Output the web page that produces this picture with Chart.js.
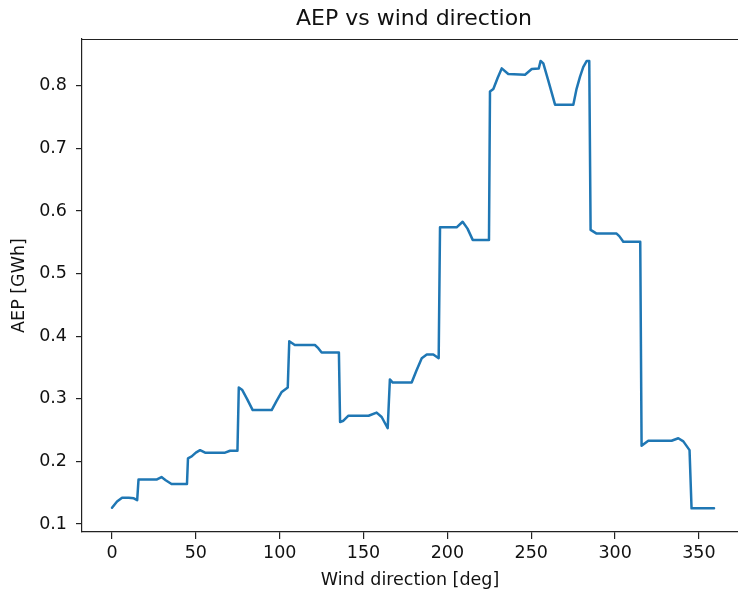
<!DOCTYPE html>
<html>
<head>
<meta charset="utf-8">
<script src="https://cdn.jsdelivr.net/npm/chart.js@4.4.1/dist/chart.umd.min.js"></script>
<style>
  html, body { margin: 0; padding: 0; background: #fff; }
  #wrap { width: 738px; height: 592px; }
</style>
</head>
<body>
<div id="wrap"><canvas id="aepChart" width="738" height="592"></canvas></div>
<script>
// Wind direction [deg] and AEP [GWh]
const directions = [
  0, 3, 6, 10, 13, 15, 15.8, 26.5, 29.5, 32, 35.5, 44.7, 45.3, 47.5, 50, 52.5,
  55.5, 67.4, 70.4, 74.8, 75.6, 77.7, 80.5, 83.9, 95.2, 98, 101.2, 104.8, 105.7, 109,
  121, 123, 125, 135.3, 136, 138, 141, 153, 157.8, 160.8, 164.4, 165.7, 167.4, 178.7,
  181.5, 184.7, 187.7, 191.6, 194.8, 195.6, 205.5, 209.1, 212, 215.1, 224.8, 225.4,
  227.4, 230, 232.4, 236.3, 246.3, 250.3, 254.5, 255.6, 257.2, 260, 264.2, 275.1,
  277, 279.1, 281, 283.1, 284.6, 285.4, 289, 300.9, 302.5, 304.9, 315, 315.8, 319.8,
  333.7, 337.7, 340.7, 344.4, 345.6, 359
];
const aep = [
  0.126, 0.136, 0.142, 0.142, 0.141, 0.138, 0.171, 0.171, 0.175, 0.170, 0.164, 0.164, 0.205, 0.208, 0.214, 0.218,
  0.214, 0.214, 0.217, 0.217, 0.318, 0.314, 0.300, 0.282, 0.282, 0.296, 0.311, 0.318, 0.392, 0.386,
  0.386, 0.381, 0.374, 0.374, 0.263, 0.265, 0.273, 0.273, 0.278, 0.271, 0.253, 0.331, 0.326, 0.326,
  0.345, 0.365, 0.371, 0.371, 0.365, 0.574, 0.574, 0.583, 0.572, 0.554, 0.554, 0.791,
  0.795, 0.813, 0.828, 0.819, 0.818, 0.827, 0.828, 0.840, 0.836, 0.810, 0.770, 0.770,
  0.795, 0.815, 0.830, 0.840, 0.840, 0.570, 0.564, 0.564, 0.560, 0.551, 0.551, 0.225, 0.233,
  0.233, 0.237, 0.232, 0.218, 0.125, 0.125
];

const xTicks = [0, 50, 100, 150, 200, 250, 300, 350];
const yTicks = [0.1, 0.2, 0.3, 0.4, 0.5, 0.6, 0.7, 0.8];

const FONT = 'DejaVu Sans';
const TEXT = '#111';

// top spine and the title centred over the (uncropped) axes
const framePlugin = {
  id: 'frame',
  afterDraw(chart) {
    const { ctx, chartArea } = chart;
    ctx.save();
    ctx.strokeStyle = '#222';
    ctx.lineWidth = 1.2;
    ctx.beginPath();
    ctx.moveTo(chartArea.left, chartArea.top + 0.5);
    ctx.lineTo(chartArea.right, chartArea.top + 0.5);
    ctx.stroke();
    ctx.fillStyle = TEXT;
    ctx.font = '22px "' + FONT + '"';
    ctx.textAlign = 'center';
    ctx.textBaseline = 'middle';
    ctx.fillText('AEP vs wind direction', 414, 19);
    ctx.restore();
  }
};

const points = directions.map((d, i) => ({ x: d, y: aep[i] }));

new Chart(document.getElementById('aepChart'), {
  type: 'line',
  data: {
    datasets: [{
      data: points,
      borderColor: '#1f77b4',
      borderWidth: 2.5,
      pointRadius: 0,
      tension: 0,
      borderJoinStyle: 'round',
      borderCapStyle: 'round',
      fill: false
    }]
  },
  plugins: [framePlugin],
  options: {
    responsive: false,
    animation: false,
    devicePixelRatio: 1,
    layout: { padding: { top: 39, right: 0, left: 0, bottom: 0 } },
    plugins: {
      legend: { display: false },
      tooltip: { enabled: false },
      title: { display: false }
    },
    scales: {
      x: {
        type: 'linear',
        min: -17.9,
        max: 373.3,
        afterBuildTicks: s => { s.ticks = xTicks.map(v => ({ value: v })); },
        afterFit: s => { s.height = 60; },
        grid: { drawOnChartArea: false, drawTicks: true, tickLength: 7, color: '#222', lineWidth: 1.2 },
        border: { display: true, color: '#222', width: 1.2 },
        ticks: {
          color: TEXT,
          padding: 4,
          maxRotation: 0,
          font: { family: FONT, size: 17.5 },
          callback: v => String(v)
        },
        title: {
          display: true,
          text: 'Wind direction [deg]',
          color: TEXT,
          font: { family: FONT, size: 17.5 },
          padding: { top: 0, bottom: 1 }
        }
      },
      y: {
        type: 'linear',
        min: 0.0872,
        max: 0.875,
        afterBuildTicks: s => { s.ticks = yTicks.map(v => ({ value: v })); },
        afterFit: s => { s.width = 82; },
        grid: { drawOnChartArea: false, drawTicks: true, tickLength: 6, color: '#222', lineWidth: 1.2 },
        border: { display: true, color: '#222', width: 1.2 },
        ticks: {
          color: TEXT,
          padding: 9,
          font: { family: FONT, size: 17.5 },
          callback: v => v.toFixed(1)
        },
        title: {
          display: true,
          text: 'AEP [GWh]',
          color: TEXT,
          font: { family: FONT, size: 17.5 },
          padding: { top: 9, bottom: 0 }
        }
      }
    }
  }
});
</script>
</body>
</html>
